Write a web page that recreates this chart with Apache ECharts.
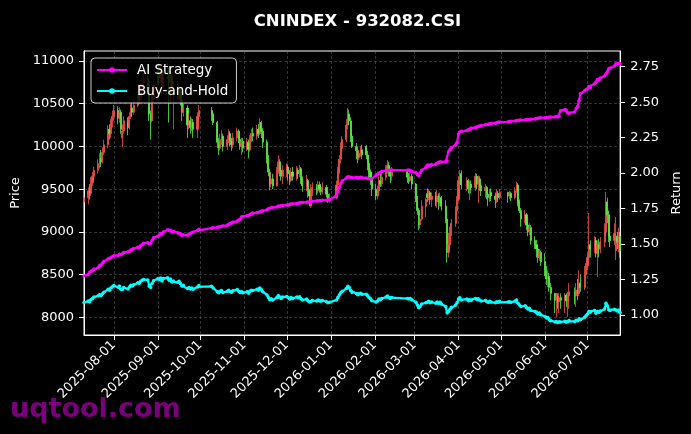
<!DOCTYPE html>
<html><head><meta charset="utf-8">
<script src="https://cdn.jsdelivr.net/npm/echarts@6/dist/echarts.min.js"></script>
<style>html,body{margin:0;padding:0;background:#000;}#c{width:691px;height:434px;}</style>
</head><body><div id="c"></div>
<script>
const titleText = 'CNINDEX - 932082.CSI';
const startDate = '2025-07-11';
const endDate = '2026-07-24';
const holidays = ['2025-10-01','2025-10-02','2025-10-03','2025-10-06','2025-10-07','2025-10-08',
  '2026-01-01','2026-01-02','2026-02-16','2026-02-17','2026-02-18','2026-02-19','2026-02-20','2026-02-23',
  '2026-04-06','2026-05-01','2026-05-04','2026-05-05','2026-06-19'];
const monthTicks = ['2025-08-01','2025-09-01','2025-10-01','2025-11-01','2025-12-01','2026-01-01',
  '2026-02-01','2026-03-01','2026-04-01','2026-05-01','2026-06-01','2026-07-01'];
const priceTicks = [8000, 8500, 9000, 9500, 10000, 10500, 11000];
const returnTicks = [1.00, 1.25, 1.50, 1.75, 2.00, 2.25, 2.50, 2.75];

// [open, close, low, high] per trading day
const candles = [
// 2025-07
[9350,9400,9300,9450],[9400,9480,9320,9520],[9480,9450,9380,9560],[9450,9580,9420,9640],[9580,9650,9540,9700],
[9650,9720,9600,9760],[9720,9800,9680,9850],[9800,9860,9740,9920],[9860,9820,9760,9960],[9820,9930,9800,9990],
[9930,10020,9900,10080],[10020,10200,9980,10250],[10200,10150,10080,10260],[10150,10280,10100,10320],[10280,10350,10220,10420],
// 2025-08
[10350,10420,10300,10485],[10420,10330,10260,10470],[10330,10400,10280,10460],[10400,10200,10150,10430],[10100,10180,9990,10260],
[10180,10300,10150,10350],[10300,10220,10130,10340],[10220,10350,10200,10400],[10350,10450,10320,10500],[10450,10400,10350,10520],
[10400,10480,10370,10530],[10480,10600,10460,10650],[10600,10560,10500,10680],[10560,10680,10540,10740],[10680,10740,10640,10800],
[10740,10800,10700,10860],[10800,10760,10680,10840],[10760,10380,10300,10780],[10380,10300,10080,10420],[10300,10550,10280,10600],
[10550,10720,10520,10780],
// 2025-09
[10720,10850,10680,10900],[10850,10800,10720,10920],[10800,10880,10750,10950],[10880,10700,10600,10900],[10700,10860,10650,10920],
[10860,10900,10780,10980],[10900,10750,10280,10920],[10750,10820,10500,10880],[10820,10650,10600,10850],[10650,10700,10200,10760],
[10700,10620,10560,10760],[10620,10680,10550,10720],[10680,10550,10480,10700],[10550,10400,10300,10580],[10400,10450,10350,10500],
[10450,10250,10100,10480],[10250,10300,10200,10380],[10300,10220,10150,10350],[10220,10280,10180,10330],[10280,10200,10100,10320],
[10200,10350,10100,10400],[10350,10420,10300,10485],
// 2025-10
[10420,10380,10300,10460],[10380,10280,10250,10400],[10280,10050,9980,10300],[10050,9980,9900,10100],[9980,10080,9950,10150],
[10080,10120,10020,10190],[10120,10000,9940,10150],[10000,10080,9960,10130],[10080,10150,10040,10200],[10150,10060,10000,10180],
[10060,10020,9950,10100],[10020,10100,9980,10160],[10100,10180,10060,10220],[10180,10080,10040,10200],[10080,10000,9960,10120],
[10000,10060,9900,10100],[10060,9980,9930,10100],
// 2025-11
[9980,10050,9950,10100],[10050,9960,9860,10080],[9960,10080,9940,10130],[10080,10150,10050,10200],[10150,10120,10060,10220],
[10120,10200,10080,10250],[10200,10150,10100,10260],[10150,10280,10130,10330],[10280,10180,10100,10300],[10180,10050,9980,10215],
[10050,9850,9800,10080],[9850,9700,9650,9900],[9700,9560,9490,9740],[9560,9620,9520,9700],[9620,9540,9500,9680],
[9540,9700,9530,9760],[9700,9820,9680,9900],[9820,9720,9650,9850],[9720,9650,9600,9760],[9650,9720,9560,9780],
// 2025-12
[9720,9760,9640,9800],[9760,9680,9600,9790],[9680,9600,9550,9720],[9600,9700,9580,9750],[9700,9650,9600,9760],
[9650,9720,9600,9770],[9720,9680,9620,9750],[9680,9740,9640,9780],[9740,9620,9560,9760],[9620,9540,9470,9650],
[9540,9600,9480,9665],[9600,9480,9400,9620],[9480,9420,9300,9500],[9300,9450,9280,9560],[9450,9520,9420,9580],
[9520,9480,9430,9560],[9480,9550,9450,9600],[9550,9500,9460,9590],[9500,9470,9430,9560],[9470,9520,9440,9580],
[9520,9440,9400,9550],[9440,9380,9340,9480],[9380,9400,9340,9450],
// 2026-01
[9400,9550,9380,9600],[9550,9700,9520,9760],[9700,9850,9680,9900],[9850,9980,9800,10050],[9980,10080,9940,10120],
[10080,10250,10050,10320],[10250,10380,10200,10450],[10380,10300,10250,10430],[10300,10120,10050,10340],[10120,10000,9980,10150],
[10000,9950,9850,10040],[9950,9870,9805,10000],[9870,9920,9840,9960],[9920,9960,9880,10000],[9960,9900,9850,10020],
[10000,9900,9850,10015],[9900,9800,9720,9950],[9800,9700,9640,9830],[9700,9620,9550,9730],[9620,9500,9420,9700],
// 2026-02
[9500,9420,9370,9560],[9420,9480,9380,9540],[9480,9600,9460,9650],[9600,9560,9525,9690],[9560,9640,9530,9690],
[9640,9720,9600,9780],[9720,9780,9680,9840],[9780,9700,9650,9820],[9700,9650,9570,9740],[9650,9700,9600,9760],
[9700,9640,9575,9720],[9640,9600,9560,9690],[9600,9650,9580,9700],[9650,9560,9500,9680],
// 2026-03
[9560,9400,9350,9570],[9400,9250,9200,9420],[9250,9080,9020,9280],[9080,9150,9040,9200],[9150,9300,9130,9370],
[9300,9380,9175,9400],[9450,9400,9350,9510],[9400,9460,9370,9500],[9460,9380,9320,9480],[9380,9420,9290,9460],
[9420,9350,9300,9470],[9350,9420,9280,9490],[9420,9340,9255,9450],[9340,9400,9300,9460],[9400,9300,9250,9420],
[9300,9150,9100,9370],[9150,8760,8640,9150],[8760,8850,8700,8990],[8850,8980,8790,9060],[8980,9100,8950,9150],
[9100,9250,9060,9300],[9250,9380,9200,9420],
// 2026-04
[9380,9600,9360,9650],[9600,9680,9560,9725],[9680,9550,9500,9720],[9550,9600,9480,9640],[9600,9500,9450,9620],
[9500,9560,9370,9600],[9560,9520,9450,9600],[9520,9650,9480,9690],[9650,9560,9500,9680],[9560,9620,9340,9660],
[9620,9540,9480,9650],[9540,9480,9420,9560],[9480,9520,9400,9560],[9520,9440,9380,9540],[9440,9400,9300,9460],
[9400,9460,9350,9500],[9460,9420,9360,9510],[9420,9380,9280,9460],[9380,9450,9340,9500],[9450,9400,9350,9480],
[9400,9460,9380,9500],
// 2026-05
[9460,9420,9340,9470],[9420,9450,9380,9480],[9450,9400,9360,9470],[9400,9480,9380,9520],[9480,9550,9450,9585],
[9550,9350,9300,9570],[9350,9250,9220,9380],[9250,9150,9060,9280],[9150,9200,9100,9255],[9200,9080,9020,9220],
[9080,9000,8950,9120],[9000,9050,8960,9100],[9050,8900,8850,9080],[8900,8850,8800,8950],[8850,8800,8700,8905],
[8800,8700,8640,8850],[8700,8760,8660,8800],[8760,8650,8600,8780],
// 2026-06
[8650,8550,8480,8750],[8550,8450,8380,8600],[8450,8480,8355,8550],[8480,8350,8300,8520],[8350,8280,8200,8400],
[8280,8200,8050,8285],[8200,8250,8005,8285],[8250,8180,8100,8280],[8180,8230,8050,8285],[8230,8200,8100,8280],
[8200,8260,8050,8285],[8260,8190,8120,8280],[8190,8250,8005,8300],[8250,8300,8100,8400],[8300,8250,8150,8350],
[8250,8320,8120,8400],[8320,8280,8200,8450],[8280,8400,8250,8550],[8400,8350,8300,8500],[8350,8500,8320,8600],
[8500,8600,8450,8635],
// 2026-07
[8600,8700,8550,8760],[8700,8850,8650,9220],[8850,8800,8700,8900],[8800,8900,8750,8950],[8900,8750,8700,8940],
[8750,8850,8470,8900],[8850,8800,8700,8920],[8800,8880,8750,8940],[8880,9000,8820,9100],[9000,9350,8950,9470],
[9350,9200,9100,9400],[9200,8950,8880,9250],[8950,8900,8820,9050],[8900,8980,8850,9100],[8780,8950,8670,9175],
[8950,8880,8800,9000],[8880,8950,8760,9050],[8950,8780,8700,9000]
];

const aiStrategy = [
1.275,1.285,1.300,1.308,1.312,1.325,1.335,1.348,1.352,1.365,1.378,1.395,1.398,1.405,1.410,
1.418,1.420,1.428,1.425,1.432,1.440,1.445,1.450,1.458,1.462,1.468,1.478,1.476,1.488,1.495,1.505,1.510,1.500,1.505,1.525,1.545,
1.555,1.560,1.575,1.570,1.585,1.600,1.595,1.598,1.585,1.590,1.580,1.575,1.570,1.560,1.565,1.562,1.570,1.575,1.580,1.585,1.595,1.605,
1.612,1.615,1.618,1.620,1.622,1.625,1.628,1.632,1.638,1.645,1.648,1.655,1.660,1.668,1.675,1.690,1.695,
1.700,1.702,1.708,1.712,1.718,1.720,1.722,1.728,1.730,1.735,1.742,1.748,1.752,1.755,1.758,1.762,1.768,1.766,1.770,1.772,
1.775,1.776,1.778,1.782,1.784,1.786,1.787,1.790,1.792,1.793,1.795,1.797,1.798,1.800,1.802,1.803,1.805,1.806,1.806,1.808,1.809,1.810,1.812,
1.840,1.870,1.900,1.925,1.945,1.965,1.975,1.972,1.970,1.968,1.970,1.966,1.968,1.970,1.968,1.965,1.962,1.960,1.958,1.962,
1.985,1.992,2.000,2.005,2.012,2.018,2.020,2.018,2.020,2.022,2.020,2.022,2.018,2.010,
2.005,1.990,1.982,2.000,2.020,2.040,2.055,2.058,2.052,2.060,2.062,2.070,2.075,2.080,2.078,2.082,2.085,2.150,2.165,2.180,2.200,2.215,
2.275,2.290,2.295,2.300,2.305,2.310,2.318,2.322,2.325,2.330,2.332,2.335,2.340,2.342,2.345,2.348,2.350,2.352,2.355,2.358,2.360,
2.362,2.364,2.366,2.368,2.370,2.372,2.372,2.374,2.375,2.376,2.378,2.378,2.380,2.382,2.384,2.386,2.388,2.390,
2.390,2.392,2.392,2.394,2.395,2.396,2.398,2.398,2.400,2.440,2.448,2.445,2.425,2.420,2.430,2.455,2.470,2.510,2.560,2.580,2.590,
2.595,2.610,2.605,2.630,2.640,2.660,2.655,2.670,2.685,2.700,2.715,2.735,2.740,2.755,2.770,2.768,2.772,2.770
];

const buyHold = [
1.088,1.098,1.094,1.109,1.117,1.126,1.135,1.142,1.137,1.150,1.160,1.181,1.175,1.190,1.199,
1.207,1.196,1.204,1.181,1.179,1.193,1.183,1.198,1.210,1.204,1.214,1.227,1.223,1.237,1.244,1.251,1.246,1.202,1.193,1.222,1.241,
1.256,1.251,1.260,1.239,1.258,1.262,1.245,1.253,1.233,1.239,1.230,1.237,1.222,1.204,1.210,1.187,1.193,1.183,1.190,1.181,1.198,1.207,
1.202,1.190,1.164,1.156,1.167,1.172,1.158,1.167,1.175,1.165,1.160,1.170,1.179,1.167,1.158,1.165,1.156,
1.164,1.153,1.167,1.175,1.172,1.181,1.175,1.190,1.179,1.164,1.141,1.123,1.107,1.114,1.105,1.123,1.137,1.126,1.117,1.126,
1.130,1.121,1.112,1.123,1.117,1.126,1.121,1.128,1.114,1.105,1.112,1.098,1.091,1.094,1.102,1.098,1.106,1.100,1.097,1.102,1.093,1.086,1.089,
1.106,1.123,1.141,1.156,1.167,1.187,1.202,1.193,1.172,1.158,1.152,1.143,1.149,1.153,1.146,1.146,1.135,1.123,1.114,1.100,
1.091,1.098,1.112,1.107,1.116,1.126,1.133,1.123,1.117,1.123,1.116,1.112,1.117,1.107,
1.089,1.071,1.051,1.060,1.077,1.086,1.089,1.096,1.086,1.091,1.083,1.091,1.082,1.089,1.077,1.060,1.014,1.025,1.040,1.054,1.071,1.086,
1.112,1.121,1.106,1.112,1.100,1.107,1.102,1.117,1.107,1.114,1.105,1.098,1.102,1.093,1.089,1.096,1.091,1.086,1.094,1.089,1.096,
1.091,1.094,1.089,1.098,1.106,1.083,1.071,1.060,1.065,1.051,1.042,1.048,1.031,1.025,1.019,1.007,1.014,1.002,
0.990,0.979,0.982,0.967,0.959,0.950,0.955,0.947,0.953,0.950,0.956,0.948,0.955,0.961,0.955,0.963,0.959,0.973,0.967,0.984,0.996,
1.007,1.025,1.019,1.031,1.013,1.025,1.019,1.028,1.042,1.083,1.065,1.036,1.031,1.040,1.036,1.028,1.036,1.017
];

// ---- build calendar axis ----
function ymd(t){ return new Date(t).toISOString().slice(0,10); }
const calendar = [];
for (let t = Date.parse(startDate+'T00:00:00Z'); t <= Date.parse(endDate+'T00:00:00Z'); t += 86400000) calendar.push(ymd(t));
const holidaySet = new Set(holidays);
const tradingDays = calendar.filter(d => { const w = new Date(d+'T00:00:00Z').getUTCDay(); return w !== 0 && w !== 6 && !holidaySet.has(d); });
if (tradingDays.length !== candles.length || aiStrategy.length !== candles.length || buyHold.length !== candles.length) {
  console.error('length mismatch', tradingDays.length, candles.length, aiStrategy.length, buyHold.length);
}
const pos = {}; tradingDays.forEach((d,i) => pos[d] = i);
const candleData = calendar.map(d => (d in pos && candles[pos[d]]) ? candles[pos[d]] : ['-','-','-','-']);
const aiData = calendar.map(d => (d in pos && aiStrategy[pos[d]] != null) ? aiStrategy[pos[d]] : null);
const bhData = calendar.map(d => (d in pos && buyHold[pos[d]] != null) ? buyHold[pos[d]] : null);
const tickSet = new Set(monthTicks);
const isTick = (i, v) => tickSet.has(v);

const FONT = 'DejaVu Sans';
const UP = '#f5524a', DOWN = '#5cf048';
const GRIDLINE = { color:'rgba(128,128,128,0.5)', width:0.8, type:[3,2] };
const chart = echarts.init(document.getElementById('c'), null, {renderer:'canvas'});
chart.setOption({
  animation: false,
  backgroundColor: '#000000',
  title: { text: titleText, left: 352.5, textAlign: 'center', top: 8,
    textStyle: { color:'#ffffff', fontFamily: FONT, fontWeight:'bold', fontSize: 16.5 } },
  grid: { left: 84, right: 69.5, top: 51, bottom: 99, show: true, borderColor:'#ffffff', borderWidth: 1, backgroundColor:'transparent' },
  legend: { orient:'vertical', left: 91, top: 58, padding:[5,8,5,5], itemWidth: 30, itemHeight: 7, itemGap: 7,
    backgroundColor:'rgba(0,0,0,0.8)', borderColor:'#cccccc', borderWidth: 1, borderRadius: 4,
    textStyle:{ color:'#ffffff', fontFamily: FONT, fontSize: 13.5, padding:[0,0,0,5] },
    data:['AI Strategy','Buy-and-Hold'] },
  xAxis: { type:'category', data: calendar, boundaryGap: false,
    axisLine:{ show:true, lineStyle:{ color:'#ffffff', width:1 } },
    axisTick:{ show:true, interval: isTick, length: 5, lineStyle:{ color:'#ffffff' } },
    axisLabel:{ interval: isTick, rotate: 45, color:'#ffffff', fontFamily: FONT, fontSize: 13, margin: 8 },
    splitLine:{ show:true, interval: isTick, lineStyle: GRIDLINE } },
  yAxis: [
    { type:'value', min: 7793, max: 11117, position:'left', name:'Price', nameLocation:'middle', nameGap: 54, nameRotate: 90,
      nameTextStyle:{ color:'#ffffff', fontFamily: FONT, fontSize: 13 },
      axisLine:{ show:true, lineStyle:{ color:'#ffffff' } },
      axisTick:{ show:true, length:5, lineStyle:{ color:'#ffffff' }, customValues: priceTicks },
      axisLabel:{ color:'#ffffff', fontFamily: FONT, fontSize: 13, margin: 10, customValues: priceTicks,
        formatter: v => String(Math.round(v)) },
      splitLine:{ show:true, lineStyle: GRIDLINE } },
    { type:'value', min: 0.859, max: 2.8606, position:'right', name:'Return', nameLocation:'middle', nameGap: 40, nameRotate: 90,
      nameTextStyle:{ color:'#ffffff', fontFamily: FONT, fontSize: 13 },
      axisLine:{ show:true, lineStyle:{ color:'#ffffff' } },
      axisTick:{ show:true, length:5, lineStyle:{ color:'#ffffff' }, customValues: returnTicks },
      axisLabel:{ color:'#ffffff', fontFamily: FONT, fontSize: 13, margin: 10, customValues: returnTicks,
        formatter: v => Number(v).toFixed(2) },
      splitLine:{ show:false } }
  ],
  series: [
    { name:'Price', type:'candlestick', xAxisIndex:0, yAxisIndex:0, data: candleData, barWidth: 1.6, z: 2,
      itemStyle:{ color: UP, color0: DOWN, borderColor: UP, borderColor0: DOWN, borderWidth: 0.8 } },
    { name:'AI Strategy', type:'line', yAxisIndex:1, data: aiData, connectNulls:true, symbol:'circle', symbolSize:3.5,
      showSymbol:true, showAllSymbol:true, z: 4,
      lineStyle:{ color:'#ff00ff', width:2.2 }, itemStyle:{ color:'#ff00ff' } },
    { name:'Buy-and-Hold', type:'line', yAxisIndex:1, data: bhData, connectNulls:true, symbol:'circle', symbolSize:3.5,
      showSymbol:true, showAllSymbol:true, z: 4,
      lineStyle:{ color:'#00ffff', width:2.2 }, itemStyle:{ color:'#00ffff' } }
  ],
  graphic: [
    { type:'text', left: 10, top: 396, z: 100,
      style:{ text:'uqtool.com', fill:'rgba(140,0,140,0.88)', font:'bold 27px "DejaVu Sans"' } }
  ]
});
</script>
</body></html>
